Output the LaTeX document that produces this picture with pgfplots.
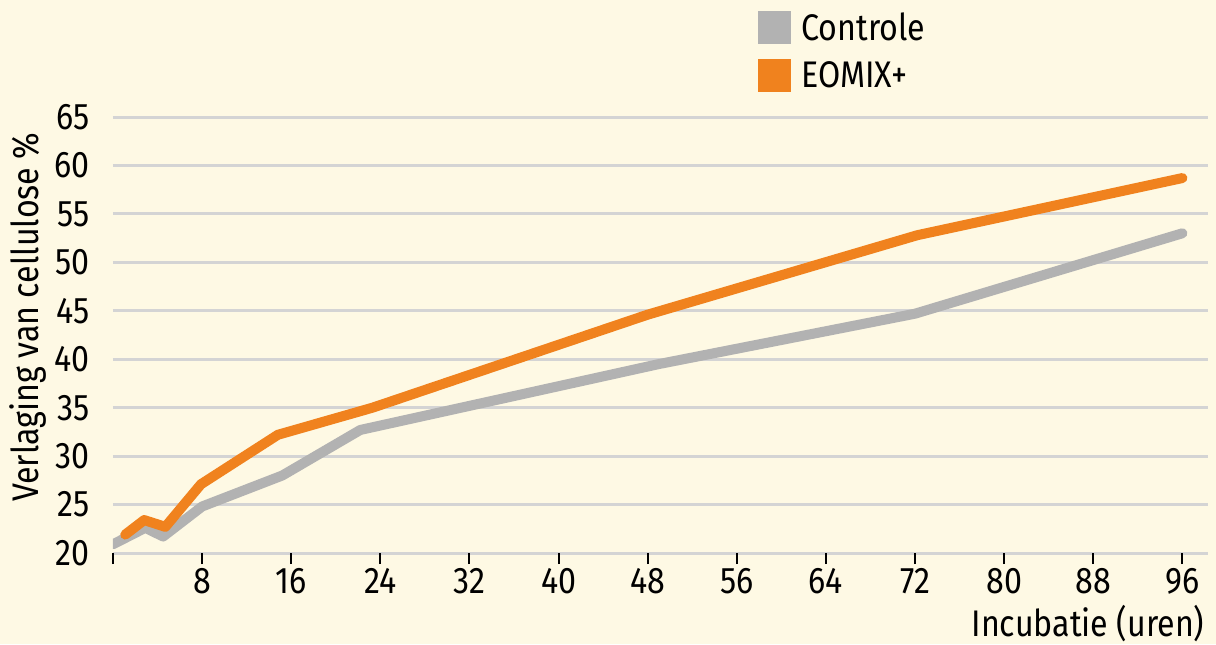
\documentclass[border=0pt]{standalone}
\usepackage{fontspec}
\setmainfont{Fira Sans}[FakeStretch=0.87]
\usepackage{pgfplots}
\pgfplotsset{compat=1.18}
\definecolor{bgc}{RGB}{254,249,228}
\definecolor{orng}{RGB}{240,130,30}
\definecolor{gry}{RGB}{178,178,178}
\definecolor{gridc}{RGB}{212,212,212}
\begin{document}
\begin{tikzpicture}
\fill[bgc] (-56.5pt,-45.5pt) rectangle (551.5pt,276.5pt);
\begin{axis}[
  scale only axis,
  width=547.5pt, height=218pt,
  xmin=0, xmax=98.3, ymin=20, ymax=65,
  axis line style={draw=none},
  xtick={0,8,...,96},
  xticklabels={,8,16,24,32,40,48,56,64,72,80,88,96},
  ytick={20,25,...,65},
  xtick pos=bottom, tick align=outside,
  major tick length=5.5pt,
  x tick style={black, line width=1pt},
  y tick style={draw=none},
  ymajorgrids,
  major grid style={gridc, line width=1.5pt},
  /pgf/number format/assume math mode=true,
  font=\fontsize{18.5}{22}\selectfont,
  yticklabel style={inner sep=0pt, anchor=east, xshift=-6pt},
  xticklabel style={inner sep=0pt, anchor=north, yshift=-2pt},
  xlabel={Incubatie (uren)},
  ylabel={Verlaging van cellulose \%},
  xlabel style={at={(axis description cs:0.997,-0.162)}, anchor=east, inner sep=0pt},
  ylabel style={at={(axis description cs:-0.0776,0.541)}, anchor=center, inner sep=0pt},
  legend style={draw=none, fill=none, at={(rel axis cs:0.589,1.243)}, anchor=north west,
    inner sep=0pt, row sep=7.5pt, font=\fontsize{18.5}{22}\selectfont,
    nodes={inner sep=0pt, anchor=west}},
  legend cell align=left,
  legend image code/.code={\path[draw=none, fill] (0pt,-8.25pt) rectangle (16.5pt,8.25pt);},
]
\addplot[gry, line width=5pt, line cap=round, line join=round] coordinates {
 (0,20.9) (2.9,22.6) (4.5,21.7) (8,24.8) (15.2,28.0) (22.2,32.7) (49,39.5) (72,44.7) (96,53.0)};
\addlegendentry{\hspace*{5pt}Controle}
\addplot[orng, line width=5pt, line cap=round, line join=round] coordinates {
 (1.1,21.9) (2.8,23.4) (4.7,22.7) (7.9,27.1) (14.8,32.2) (23.3,35.0) (48,44.6) (72.2,52.8) (96,58.7)};
\addlegendentry{\hspace*{5pt}EOMIX+}
\end{axis}
\pgfresetboundingbox
\useasboundingbox (-56.5pt,-45.5pt) rectangle (551.5pt,276.5pt);
\end{tikzpicture}
\end{document}
